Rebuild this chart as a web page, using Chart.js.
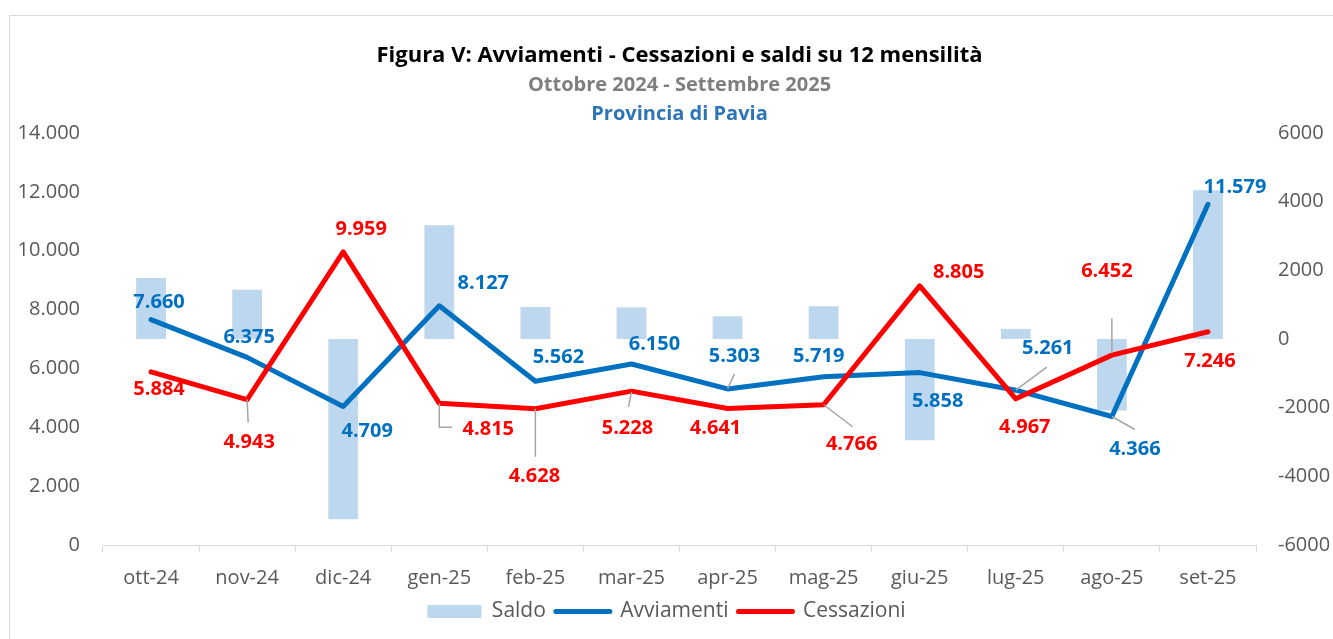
<!DOCTYPE html>
<html lang="it">
<head>
<meta charset="utf-8">
<title>Avviamenti - Cessazioni - Provincia di Pavia</title>
<script src="https://cdn.jsdelivr.net/npm/chart.js@4.4.1/dist/chart.umd.min.js"></script>
<style>
  html, body { margin: 0; padding: 0; background: #fff; overflow: hidden; }
  .frame { position: absolute; left: 9px; top: 15px; width: 1400px; height: 700px; border: 1px solid #d9d9d9; }
  #chart { position: absolute; left: 0; top: 0; }
</style>
</head>
<body>
<div class="frame"></div>
<canvas id="chart" width="1333" height="639"></canvas>
<script>
  // data
  const months = ['ott-24', 'nov-24', 'dic-24', 'gen-25', 'feb-25', 'mar-25', 'apr-25', 'mag-25', 'giu-25', 'lug-25', 'ago-25', 'set-25'];
  const avviamenti = [7660, 6375, 4709, 8127, 5562, 6150, 5303, 5719, 5858, 5261, 4366, 11579];
  const cessazioni = [5884, 4943, 9959, 4815, 4628, 5228, 4641, 4766, 8805, 4967, 6452, 7246];
  const saldo = [1776, 1432, -5250, 3312, 934, 922, 662, 953, -2947, 294, -2086, 4333];
  const leftTicks = [0, 2000, 4000, 6000, 8000, 10000, 12000, 14000];
  const rightTicks = [-6000, -4000, -2000, 0, 2000, 4000, 6000];

  // label placement (pixel offsets from the point) and leader lines
  const avvLabelPos = [[8, -17], [2, -20], [24, 25], [44, -23], [23, -24], [23, -20], [7, -33], [-5, -20], [18, 29], [32, -42], [23, 33], [27, -17]];
  const cesLabelPos = [[8, 17], [2, 43], [18, -23], [49, 26], [-1, 67], [-4, 37], [-12, 20], [28, 40], [39, -14], [9, 28], [-5, -84], [2, 30]];
  const avvLeaders = { 6: [[0, 0], [7, -15]], 9: [[0, 0], [31, -23]], 10: [[0, 0], [23, 13]] };
  const cesLeaders = { 1: [[0, 0], [1, 23]], 3: [[0, 0], [0, 24], [13, 24]], 4: [[0, 0], [0, 48]], 5: [[0, 1], [-3, 16]], 7: [[0, 0], [29, 22]], 10: [[0, -2], [0, -37]] };

  const colors = {
    avv: '#0070C0',
    ces: '#FF0000',
    saldo: '#BDD7EE',
    axis: '#d9d9d9',
    text: '#595959',
    leader: '#A6A6A6',
  };

  const FONT = "'Open Sans', 'Noto Sans', sans-serif";
  Chart.defaults.font.family = FONT;
  Chart.defaults.font.size = 20;
  Chart.defaults.color = colors.text;

  function fmtIt(v) {
    const s = String(Math.abs(Math.round(v)));
    const out = s.replace(/\B(?=(\d{3})+(?!\d))/g, '.');
    return v < 0 ? '-' + out : out;
  }

  const headerPlugin = {
    id: 'header',
    afterDraw(chart) {
      const { ctx, chartArea } = chart;
      const cx = (chartArea.left + chartArea.right) / 2;
      ctx.save();
      ctx.textAlign = 'center';
      ctx.textBaseline = 'middle';
      ctx.fillStyle = '#000';
      ctx.font = `bold 22px ${FONT}`;
      ctx.fillText('Figura V: Avviamenti - Cessazioni e saldi su 12 mensilità', cx, 56);
      ctx.fillStyle = '#7F7F7F';
      ctx.font = `bold 20px ${FONT}`;
      ctx.fillText('Ottobre 2024 - Settembre 2025', cx, 85);
      ctx.fillStyle = '#2E75B6';
      ctx.fillText('Provincia di Pavia', cx, 114);
      ctx.restore();
    },
  };

  const valueLabels = {
    id: 'valueLabels',
    afterDatasetsDraw(chart) {
      const { ctx } = chart;
      const sets = [
        { idx: 1, pos: avvLabelPos, leaders: avvLeaders, values: avviamenti, color: colors.avv },
        { idx: 2, pos: cesLabelPos, leaders: cesLeaders, values: cessazioni, color: colors.ces },
      ];
      ctx.save();
      sets.forEach((set) => {
        const meta = chart.getDatasetMeta(set.idx);
        meta.data.forEach((pt, i) => {
          const lead = set.leaders[i];
          if (lead) {
            ctx.strokeStyle = colors.leader;
            ctx.lineWidth = 1.5;
            ctx.beginPath();
            lead.forEach(([dx, dy], k) => {
              if (k === 0) ctx.moveTo(pt.x + dx, pt.y + dy);
              else ctx.lineTo(pt.x + dx, pt.y + dy);
            });
            ctx.stroke();
          }
        });
      });
      sets.forEach((set) => {
        const meta = chart.getDatasetMeta(set.idx);
        ctx.fillStyle = set.color;
        ctx.font = `bold 20px ${FONT}`;
        ctx.textAlign = 'center';
        ctx.textBaseline = 'middle';
        meta.data.forEach((pt, i) => {
          const [dx, dy] = set.pos[i];
          ctx.fillText(fmtIt(set.values[i]), pt.x + dx, pt.y + dy);
        });
      });
      ctx.restore();
    },
  };

  new Chart(document.getElementById('chart'), {
    type: 'bar',
    data: {
      labels: months,
      datasets: [
        {
          type: 'bar',
          label: 'Saldo',
          data: saldo,
          backgroundColor: colors.saldo,
          borderWidth: 0,
          yAxisID: 'y1',
          categoryPercentage: 1,
          barPercentage: 0.31,
          order: 3,
        },
        {
          type: 'line',
          label: 'Avviamenti',
          data: avviamenti,
          borderColor: colors.avv,
          backgroundColor: colors.avv,
          borderWidth: 5,
          borderCapStyle: 'round',
          borderJoinStyle: 'round',
          pointRadius: 0,
          tension: 0,
          yAxisID: 'y',
          order: 2,
        },
        {
          type: 'line',
          label: 'Cessazioni',
          data: cessazioni,
          borderColor: colors.ces,
          backgroundColor: colors.ces,
          borderWidth: 5,
          borderCapStyle: 'round',
          borderJoinStyle: 'round',
          pointRadius: 0,
          tension: 0,
          yAxisID: 'y',
          order: 1,
        },
      ],
    },
    options: {
      responsive: false,
      animation: false,
      devicePixelRatio: 1,
      layout: { padding: { top: 133, bottom: 7, left: 0, right: 0 } },
      scales: {
        x: {
          offset: true,
          grid: {
            display: true,
            offset: true,
            drawOnChartArea: false,
            drawTicks: true,
            tickLength: 7,
            color: colors.axis,
          },
          border: { display: true, color: colors.axis, width: 1 },
          ticks: { padding: 14, color: colors.text, font: { size: 20 } },
          afterFit(scale) { scale.height = 46; },
        },
        y: {
          position: 'left',
          min: 0,
          max: 14000,
          grid: { display: false, drawTicks: false },
          border: { display: false },
          afterBuildTicks(scale) { scale.ticks = leftTicks.map((v) => ({ value: v })); },
          ticks: { padding: 23, color: colors.text, font: { size: 20 }, callback: (v) => fmtIt(v) },
          afterFit(scale) { scale.width = 103; },
        },
        y1: {
          position: 'right',
          min: -6000,
          max: 6000,
          grid: { display: false, drawTicks: false },
          border: { display: false },
          afterBuildTicks(scale) { scale.ticks = rightTicks.map((v) => ({ value: v })); },
          ticks: { padding: 22, color: colors.text, font: { size: 20 }, callback: (v) => String(v) },
          afterFit(scale) { scale.width = 77; },
        },
      },
      plugins: {
        title: { display: false },
        tooltip: { enabled: false },
        legend: {
          position: 'bottom',
          labels: {
            usePointStyle: true,
            pointStyleWidth: 54,
            boxHeight: 13,
            padding: 10,
            color: colors.text,
            font: { size: 21 },
            sort: (a, b) => a.datasetIndex - b.datasetIndex,
            generateLabels(chart) {
              return chart.data.datasets.map((ds, i) => ({
                text: ds.label,
                datasetIndex: i,
                fillStyle: ds.type === 'bar' ? ds.backgroundColor : ds.borderColor,
                strokeStyle: ds.type === 'bar' ? ds.backgroundColor : ds.borderColor,
                lineWidth: ds.type === 'bar' ? 0 : 5,
                lineCap: 'round',
                pointStyle: ds.type === 'bar' ? 'rect' : 'line',
                fontColor: colors.text,
                hidden: false,
              }));
            },
          },
        },
      },
    },
    plugins: [headerPlugin, valueLabels],
  });
</script>
</body>
</html>
